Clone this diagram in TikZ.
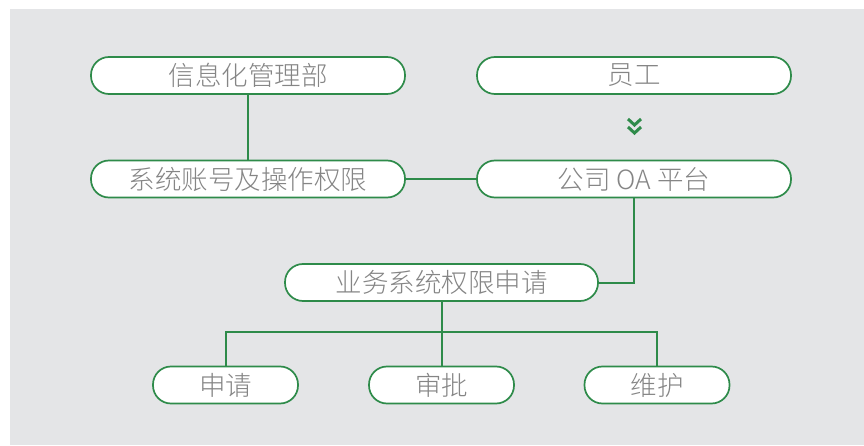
\documentclass[tikz,border=0pt]{standalone}
\usepackage{fontspec}
\setmainfont{Noto Sans CJK SC}[UprightFont=* Light]
\definecolor{grn}{HTML}{2E8B4A}
\definecolor{bg}{HTML}{E4E5E7}
\definecolor{txt}{HTML}{858585}
\tikzset{
  pill/.style={draw=grn, fill=white, line width=1.7pt, rounded corners=18pt,
    inner sep=0pt, minimum height=37pt, text=txt,
    font=\fontsize{26.5}{26.5}\selectfont},
  wide/.style={pill, minimum width=314pt},
  small/.style={pill, minimum width=145pt},
  link/.style={draw=grn, line width=2pt},
}
\begin{document}
\begin{tikzpicture}[x=1pt,y=-1pt]
\useasboundingbox (0,0) rectangle (864,446);
\fill[bg] (10,9) rectangle (864,445);
\node[wide] (xx) at (248,75.5) {信息化管理部};
\node[wide] (yg) at (634,75.5) {员工};
\node[wide] (zh) at (248,179) {系统账号及操作权限};
\node[wide] (oa) at (634,179) {公司 OA 平台};
\node[pill, minimum width=313pt] (yw) at (441.5,282.5) {业务系统权限申请};
\node[small] (sq) at (225.5,385) {申请};
\node[small] (sp) at (441.5,385) {审批};
\node[small] (wh) at (657,385) {维护};
\coordinate (br) at (441.5,332);
\draw[link] (xx) -- (zh);
\draw[link] (zh) -- (oa);
\draw[link] (oa.south) |- (yw.east);
\draw[link] (yw.south) -- (br);
\draw[link] (sq.north) |- (br) -| (wh.north);
\draw[link] (br) -- (sp.north);
\draw[grn, line width=3pt] (628,119) -- (634.5,125) -- (641,119);
\draw[grn, line width=3pt] (628,127) -- (634.5,133) -- (641,127);
\end{tikzpicture}
\end{document}
